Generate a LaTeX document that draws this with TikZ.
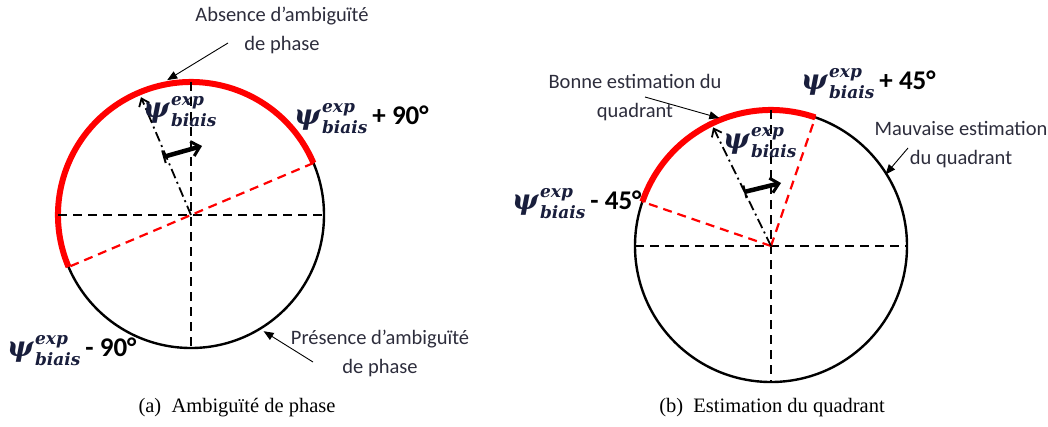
\documentclass[tikz,border=0pt]{standalone}
\usepackage{fontspec}
\setmainfont{Liberation Serif}
\newfontfamily\labfont{Carlito}
\newfontfamily\psifont{DejaVu Serif}
\usetikzlibrary{arrows.meta,calc}
\definecolor{notec}{RGB}{45,45,60}
\definecolor{mathc}{RGB}{25,30,60}
\definecolor{arcred}{RGB}{255,0,0}
\newcommand\psifnt[1]{\psifont\bfseries\itshape\fontsize{#1}{#1}\selectfont}
\newcommand\Psibias{{\psifnt{28}ψ}\kern1.5pt{\psifnt{17}\rlap{\raisebox{12pt}{exp}}\raisebox{-9pt}{biais}}}
\newcommand\degtxt[1]{\hspace{5pt}{\labfont\bfseries\fontsize{27}{30}\selectfont\color{black}#1}}
\begin{document}
\begin{tikzpicture}[x=1pt,y=1pt,
  circ/.style={line width=2.4pt},
  redarc/.style={arcred, line width=6pt},
  axis/.style={line width=2.2pt, dash pattern=on 9pt off 6pt},
  reddash/.style={arcred, line width=2.2pt, dash pattern=on 9pt off 6pt},
  psiline/.style={line width=1.8pt, dash pattern=on 10pt off 4pt on 2pt off 4pt, -{Straight Barb[length=7pt,width=11pt,line width=1.8pt]}},
  rotarrow/.style={line width=4.5pt, {Bar[width=13pt,line width=2pt]}-{Straight Barb[length=8pt,width=15pt,line width=3pt]}},
  note/.style={font=\labfont\fontsize{20.5}{29}\selectfont, align=center, text=notec, inner sep=0pt},
  pointer/.style={line width=0.9pt, -{Triangle[length=10pt,width=8pt]}},
  mlab/.style={text=mathc, inner sep=0pt},
  capt/.style={font=\fontsize{20.5}{24}\selectfont, inner sep=0pt}
]
\useasboundingbox (0,0) rectangle (1048,-426);

% ---------- (a) ----------
\coordinate (CA) at (191,-215);
\draw[circ] (CA) circle[radius=133];
\draw[redarc] ($(CA)+(23:133)$) arc[start angle=23,end angle=203,radius=133];
\draw[axis] ($(CA)+(-133,0)$) -- ($(CA)+(133,0)$);
\draw[axis] ($(CA)+(0,133)$) -- ($(CA)+(0,-133)$);
\draw[reddash] ($(CA)+(23:133)$) -- ($(CA)+(203:133)$);
\draw[psiline] (CA) -- ($(CA)+(113:128)$);
\coordinate (rA1) at (163,-157);
\coordinate (rA2) at (202,-146);
\draw[rotarrow] (rA1) -- (rA2);

\node[mlab, anchor=base west] (psiA) at (143,-117) {\Psibias};
\node[mlab, anchor=base west] (plusA) at (294,-124) {\Psibias\degtxt{+ 90°}};
\node[mlab, anchor=base west] (minusA) at (7,-356) {\Psibias\degtxt{- 90°}};

\node[note] (absA) at (282,-30) {Absence d’ambiguïté\\de phase};
\coordinate (absS) at (228,-43);
\draw[pointer] (absS) -- ($(CA)+(100:137)$);
\node[note] (preA) at (380,-353) {Présence d’ambiguïté\\de phase};
\coordinate (preS) at (313,-362);
\draw[pointer] (preS) -- ($(CA)+(-58:137)$);

\node[capt] (captA) at (237,-408) {(a)\enspace Ambiguïté de phase};

% ---------- (b) ----------
\coordinate (CB) at (771,-246);
\draw[circ] (CB) circle[radius=136];
\draw[redarc] ($(CB)+(71:136)$) arc[start angle=71,end angle=161,radius=136];
\draw[axis] ($(CB)+(-136,0)$) -- ($(CB)+(136,0)$);
\draw[axis] ($(CB)+(0,136)$) -- ($(CB)+(0,-136)$);
\draw[reddash] (CB) -- ($(CB)+(71:136)$);
\draw[reddash] (CB) -- ($(CB)+(161:136)$);
\draw[psiline] (CB) -- ($(CB)+(116:132)$);
\coordinate (rB1) at (744,-192);
\coordinate (rB2) at (781,-183);
\draw[rotarrow] (rB1) -- (rB2);

\node[mlab, anchor=base west] (psiB) at (723,-148) {\Psibias};
\node[mlab, anchor=base west] (plusB) at (801,-89) {\Psibias\degtxt{+ 45°}};
\node[mlab, anchor=base west] (minusB) at (512,-209) {\Psibias\degtxt{- 45°}};

\node[note] (bonB) at (635,-98) {Bonne estimation du\\quadrant};
\coordinate (bonS) at (645,-97);
\draw[pointer] (bonS) -- ($(CB)+(112:138)$);
\node[note] (mauB) at (961,-145) {Mauvaise estimation\\du quadrant};
\coordinate (mauS) at (908,-148);
\draw[pointer] (mauS) -- ($(CB)+(32:135)$);

\node[capt] (captB) at (772,-408) {(b)\enspace Estimation du quadrant};
\end{tikzpicture}
\end{document}
